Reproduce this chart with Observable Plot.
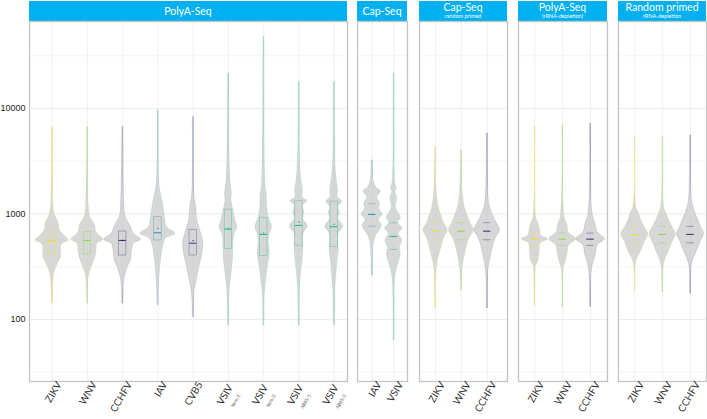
<!DOCTYPE html>
<html><head><meta charset="utf-8">
<script src="https://cdn.jsdelivr.net/npm/d3@7"></script>
<script src="https://cdn.jsdelivr.net/npm/@observablehq/plot@0.6"></script>
<style>
html,body{margin:0;padding:0;background:#fff;}
body{width:707px;height:419px;overflow:hidden;position:relative;}
.hdr{position:absolute;top:1px;height:20px;background:#00b0f0;color:#fff;font-family:Lato,"Open Sans",sans-serif;text-align:center;overflow:hidden;}
.hdr .t{position:absolute;left:0;right:0;white-space:nowrap;}
.hdr .s{position:absolute;left:0;right:0;white-space:nowrap;font-size:5.5px;line-height:7px;top:12px;}
.pl{position:absolute;top:21px;}
.pl svg{max-width:none !important;display:block;}
</style></head>
<body>
<script>
// ---------------- data ----------------
const panelTitles = ["PolyA-Seq", "Cap-Seq", "Cap-Seq", "PolyA-Seq", "Random primed"];
const panelSubtitles = ["", "", "random primed", "(rRNA-depletion)", "rRNA-depletion"];

const polyACats = ["ZIKV", "WNV", "CCHFV", "IAV", "CVB5", "VSIV", "VSIV", "VSIV", "VSIV"];
const polyASubs = ["", "", "", "", "", "Vero/1", "Vero/2", "SB85/1", "SB85/2"];
const capCats = ["IAV", "VSIV"];
const capSubs = ["", ""];
const arboCats = ["ZIKV", "WNV", "CCHFV"];
const arboSubs = ["", "", ""];

const viruses = ["ZIKV", "WNV", "CCHFV", "IAV", "CVB5", "VSIV"];

const yMajorTicks = [100, 1000, 10000];
const yMinorTicks = [31.6, 316, 3162, 31623];

// violin profiles: [value, density]
const polyA_ZIKV = [[6650,0.4],[1340,1],[1010,2.5],[810,6.7],[698,8],[625,12],[561,16.7],[514,10],[451,9],[390,9],[340,6],[291,3],[250,1.5],[142,0.4]];
const polyA_WNV = [[6650,0.4],[1160,1.5],[933,3],[795,7.5],[672,9],[603,14],[569,16.3],[522,10],[434,9],[376,7.5],[325,5],[281,2.5],[234,1],[141,0.4]];
const polyA_CCHFV = [[6650,0.4],[1260,1.5],[933,3],[778,7.5],[649,11],[569,18.3],[522,11],[434,9],[363,8],[313,5],[261,2.5],[218,1],[141,0.4]];
const polyA_IAV = [[9570,0.4],[2080,1],[1550,3],[1250,5],[933,7],[750,9],[649,17.5],[582,8],[484,5],[363,3],[252,1.5],[176,0.8],[136,0.4]];
const polyA_CVB5 = [[8270,0.4],[1550,1],[1160,3],[868,4],[698,7],[522,10],[390,8.5],[313,6],[234,3.5],[188,1.5],[151,0.8],[105,0.4]];
const polyA_VSIV1 = [[21300,0.3],[4000,1],[2080,2],[1550,3.5],[1340,3],[1080,5],[868,7],[740,9],[649,6],[484,5],[363,4.5],[271,3],[202,1.5],[151,0.8],[88,0.3]];
const polyA_VSIV2 = [[47400,0.3],[3010,1],[1790,2],[1550,3],[1160,3.5],[933,5],[750,8.3],[649,6],[561,5],[420,6],[313,4],[234,2.5],[175,1],[88,0.3]];
const polyA_VSIV3 = [[17800,0.3],[3210,1],[2080,2.5],[1670,4],[1440,3.5],[1320,8.5],[1200,4],[1020,5.5],[900,4],[766,9],[649,4.5],[484,4.5],[363,3.5],[271,2],[202,1],[88,0.3]];
const polyA_VSIV4 = [[17800,0.3],[3210,1],[1930,3],[1670,4],[1440,3.5],[1310,8],[1160,4],[1020,5.5],[900,4],[757,9],[649,4.5],[451,4.5],[337,3],[252,2],[188,1],[88,0.3]];

const cap_IAV = [[3210,0.5],[2080,1.5],[1790,4],[1630,8.7],[1440,5],[1250,8],[1120,7],[990,10.5],[881,6.5],[778,9.5],[698,7.5],[625,4],[541,2],[451,1],[261,0.4]];
const cap_VSIV = [[21300,0.2],[10300,0.3],[1930,1.5],[1770,3],[1610,1.5],[1420,3.5],[1160,2],[1005,5],[920,7],[818,4.5],[733,8.8],[649,5],[561,8.5],[484,6],[420,7],[363,5.5],[303,3],[252,1.5],[202,0.7],[63,0.2]];

const capRP_ZIKV = [[4300,0.4],[1550,1.5],[1160,3.5],[968,6],[807,9],[698,12.5],[603,9],[484,6],[390,3.5],[313,1.5],[252,0.8],[127,0.3]];
const capRP_WNV = [[4000,0.4],[1550,1.5],[1160,3.5],[933,7],[807,9.5],[698,12.5],[582,8],[468,5],[363,2.5],[291,1],[188,0.3]];
const capRP_CCHFV = [[5790,0.3],[1250,2],[1040,4.5],[933,6.5],[807,10],[698,12.8],[603,9],[503,6],[390,3.5],[313,1.5],[252,0.8],[127,0.3]];

const polyAR_ZIKV = [[6650,0.4],[933,1.5],[807,4],[698,5.5],[625,6.5],[577,13.3],[522,6],[420,5],[349,3.5],[325,1.5],[271,0.7],[136,0.3]];
const polyAR_WNV = [[6900,0.4],[933,2],[778,5],[672,6],[577,13.5],[503,6.5],[420,5],[349,3],[303,1],[131,0.3]];
const polyAR_CCHFV = [[7160,0.3],[1005,2],[807,5],[672,7],[577,14.2],[503,7],[420,5.5],[349,3],[303,1.5],[131,0.3]];

const randR_ZIKV = [[5350,0.4],[1160,1.5],[1040,4],[900,6],[750,10],[640,13.7],[541,10],[451,7],[390,3.5],[337,1],[188,0.3]];
const randR_WNV = [[5350,0.4],[1160,1.5],[1005,4],[868,6.5],[750,10],[640,13.3],[541,10],[434,6],[363,2.5],[313,1],[180,0.3]];
const randR_CCHFV = [[5550,0.3],[1340,1.5],[1160,3],[1005,5],[868,8],[750,10.5],[649,13.5],[541,10],[434,6],[363,2.5],[313,1],[175,0.3]];

// box statistics: [q1, median, q3, mean]
const polyAQuart = [[404,561,672,570],[413,561,672,561],[404,561,682,561],[561,664,933,729],[404,528,708,561],[464,718,1100,730],[401,640,920,660],[500,778,1320,836],[484,757,1310,800]];
const capQuart = [[766,990,1250,990],[461,612,826,612]];
const capRPQuart = [[569,687,826,687],[569,687,826,687],[569,687,826,687]];
const polyARQuart = [[503,577,658,577],[503,577,664,577],[503,577,658,577]];
const randRQuart = [[533,635,762,635],[533,640,762,640],[533,640,762,640]];

// ---------------- assembly ----------------
const panels = [
  {cats: polyACats, subs: polyASubs, prof: [polyA_ZIKV, polyA_WNV, polyA_CCHFV, polyA_IAV, polyA_CVB5, polyA_VSIV1, polyA_VSIV2, polyA_VSIV3, polyA_VSIV4], quart: polyAQuart},
  {cats: capCats, subs: capSubs, prof: [cap_IAV, cap_VSIV], quart: capQuart},
  {cats: arboCats, subs: arboSubs, prof: [capRP_ZIKV, capRP_WNV, capRP_CCHFV], quart: capRPQuart},
  {cats: arboCats, subs: arboSubs, prof: [polyAR_ZIKV, polyAR_WNV, polyAR_CCHFV], quart: polyARQuart},
  {cats: arboCats, subs: arboSubs, prof: [randR_ZIKV, randR_WNV, randR_CCHFV], quart: randRQuart}
];
const layout = [
  {left: 29, width: 318, lo: -0.644, hi: 8.377},
  {left: 357, width: 50, lo: -0.68, hi: 1.634},
  {left: 419, width: 88, lo: -0.619, hi: 2.785},
  {left: 518, width: 89, lo: -0.585, hi: 2.61},
  {left: 618, width: 88, lo: -0.585, hi: 2.575}
];

panels.forEach((P, p) => {
  const L = layout[p];
  // header
  const h = document.createElement("div");
  h.className = "hdr";
  h.style.left = L.left + "px";
  h.style.width = L.width + "px";
  const t = document.createElement("div");
  t.className = "t";
  t.textContent = panelTitles[p];
  t.style.fontSize = "10.5px";
  if (panelSubtitles[p]) {
    t.style.top = "0px"; t.style.lineHeight = "13px";
    const s = document.createElement("div");
    s.className = "s";
    s.textContent = panelSubtitles[p];
    h.appendChild(s);
  } else {
    t.style.top = "0px"; t.style.lineHeight = "20px";
  }
  h.appendChild(t);
  document.body.appendChild(h);

  const mL = p === 0 ? 29 : 10, mR = 10;
  const W = L.width + mL + mR;
  const k = (L.hi - L.lo) / L.width;
  const rows = [];
  P.prof.forEach((prof, i) => prof.forEach(([v, d]) => rows.push({i, virus: P.cats[i], v, x1: i - d * k, x2: i + d * k})));
  const ext = P.prof.map((prof, i) => ({i, virus: P.cats[i], lo: prof[prof.length - 1][0], hi: prof[0][0]}));
  const bw = 3.7 * k;
  const q = P.quart.map(([q1, med, q3, mean], i) => ({i, virus: P.cats[i], q1, med, q3, mean, x1: i - bw, x2: i + bw}));
  const idx = d3.range(P.cats.length);
  const plain = idx.filter(i => !P.subs[i]);
  const withSub = idx.filter(i => P.subs[i]);

  const marks = [
    Plot.ruleY(yMinorTicks, {stroke: "#f4f4f4"}),
    Plot.ruleY(yMajorTicks, {stroke: "#ececec"}),
    Plot.ruleX(idx, {stroke: "#f0f0f0"}),
    Plot.ruleX(ext, {x: "i", y1: "lo", y2: "hi", stroke: "virus", strokeOpacity: 0.4, strokeWidth: 0.9}),
    Plot.areaX(rows, {y: "v", x1: "x1", x2: "x2", z: "i", fill: "#d4d4d4", fillOpacity: 0.93, stroke: "virus", strokeOpacity: 0.25, strokeWidth: 0.6, curve: "catmull-rom"}),
  ];
  if (p === 0) {
    marks.push(Plot.rect(q, {x1: "x1", x2: "x2", y1: "q1", y2: "q3", stroke: "virus", fill: "none", strokeWidth: 0.6, strokeOpacity: 0.6}));
    marks.push(Plot.dot(q, {x: "i", y: "mean", r: 0.8, fill: "virus"}));
    marks.push(Plot.axisY(yMajorTicks, {tickSize: 0, tickPadding: 4, tickFormat: d => String(d), fontSize: 9, fontFamily: "Liberation Sans, Arial, sans-serif", fill: "#222"}));
  } else {
    marks.push(Plot.ruleY(q, {y: "q1", x1: "x1", x2: "x2", stroke: "virus", strokeOpacity: 0.5, strokeWidth: 0.8}));
    marks.push(Plot.ruleY(q, {y: "q3", x1: "x1", x2: "x2", stroke: "virus", strokeOpacity: 0.5, strokeWidth: 0.8}));
  }
  marks.push(Plot.ruleY(q, {y: "med", x1: "x1", x2: "x2", stroke: "virus", strokeWidth: 1.1}));
  marks.push(Plot.frame({stroke: "#c4c4c4", strokeWidth: 1.3}));
  marks.push(Plot.axisX(plain, {tickSize: 0, tickPadding: 1, tickRotate: -60, tickFormat: i => P.cats[i], fontSize: 10, dx: 7, fill: "#333"}));
  if (withSub.length) {
    marks.push(Plot.axisX(withSub, {tickSize: 0, tickPadding: 1, tickRotate: -60, tickFormat: i => P.cats[i], fontSize: 10, dx: 2, dy: 3, fill: "#333"}));
    marks.push(Plot.text(withSub, {x: d => d, text: i => P.subs[i], frameAnchor: "bottom", rotate: -60, textAnchor: "end", fontSize: 4.5, dx: 12, dy: 14, fill: "#444"}));
  }

  const chart = Plot.plot({
    width: W,
    height: 398,
    marginTop: 0,
    marginBottom: 38,
    marginLeft: mL,
    marginRight: mR,
    x: {type: "linear", domain: [L.lo, L.hi], axis: null},
    y: {type: "log", domain: [25.8, 66800], axis: null},
    color: {domain: viruses, range: ["#f2e11c", "#8fd744", "#4b2d7f", "#3497b5", "#3f4a8a", "#33b98b"]},
    style: {fontFamily: "Lato, 'Liberation Sans', sans-serif", background: "transparent", overflow: "visible"},
    marks
  });
  const wrap = document.createElement("div");
  wrap.className = "pl";
  wrap.style.left = (L.left - mL) + "px";
  wrap.style.width = W + "px";
  wrap.appendChild(chart);
  document.body.appendChild(wrap);
});
</script>
</body></html>
